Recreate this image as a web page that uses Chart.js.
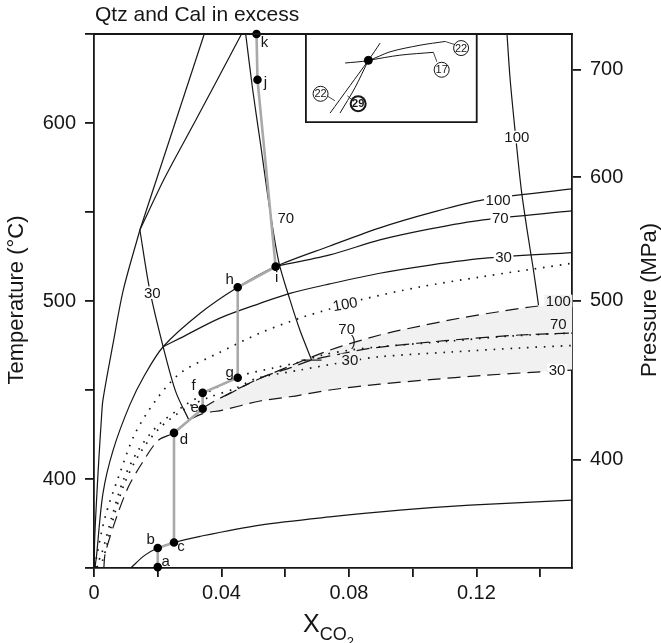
<!DOCTYPE html>
<html>
<head>
<meta charset="utf-8">
<script src="https://cdn.jsdelivr.net/npm/chart.js@4.4.1/dist/chart.umd.min.js"></script>
<style>
  html,body{margin:0;padding:0;background:#fff}
  #wrap{width:661px;height:643px}
</style>
</head>
<body>
<div id="wrap"><canvas id="c" width="661" height="643"></canvas></div>
<script>
/* XCO2 – T diagram, Qtz + Cal in excess. points are [xCO2, T °C] */
const xTicks = [0, 0.02, 0.04, 0.06, 0.08, 0.10, 0.12, 0.14];
const xTickLabels = ['0', '', '0.04', '', '0.08', '', '0.12', ''];
const tTicks = [350, 400, 450, 500, 550, 600, 650];
const tTickLabels = ['', '400', '', '500', '', '600', ''];
const pTickLabels = ['400', '500', '600', '700'];   // MPa
const pTickAtT = [411, 500.2, 569.6, 629.9];        // where they sit on the T scale

// gray P-T-X path with the lettered points
const pathLabels = ['a', 'b', 'c', 'd', 'e', 'f', 'g', 'h', 'i', 'j', 'k'];
const pathX = [0.0200, 0.0200, 0.0251, 0.0251, 0.0341, 0.0341, 0.0451, 0.0451, 0.0570, 0.0513, 0.0510];
const pathT = [350.5, 361.2, 364.3, 425.9, 439.5, 448.4, 456.9, 507.7, 519.3, 624.3, 650];

// solid reaction curves
const solidLowLeft = [[0.0001,350],[0.0002,365.6],[0.0008,388.1],[0.0015,410.6],[0.0023,433.1],[0.0028,444.3],[0.0059,475.3],[0.0092,506.2],[0.0144,539.9]];
const solidUpStraight = [[0.0144,539.9],[0.0346,650]];
const solidUpCurved = [[0.0144,539.9],[0.0222,569.2],[0.0320,601.8],[0.0463,650]];
const steep30 = [[0.0144,539.9],[0.0175,506.1],[0.0217,474.3],[0.0257,448.8],[0.0298,433.1]];
const solid100 = [[0.0003,350.4],[0.00075,356.2],[0.0028,391.8],[0.0060,416.2],[0.0112,441.5],[0.0159,458.4],[0.0217,474.3],[0.0333,493.1],[0.0451,507.7],[0.0571,519.5],[0.0740,530.9],[0.0897,541.1],[0.1055,549.5],[0.1221,556.8],[0.150,563.0]];
const solid70 = [[0.0571,519.5],[0.0740,525.9],[0.0897,534.3],[0.1055,540.5],[0.1221,545.6],[0.150,550.6]];
const solid30 = [[0.0217,474.3],[0.0269,479.0],[0.0395,490.4],[0.0521,498.7],[0.0615,504.3],[0.0740,509.6],[0.0897,515.6],[0.1055,520.2],[0.1237,524.2],[0.150,527.2]];
const steep70 = [[0.0476,650],[0.0498,618.7],[0.0523,587.7],[0.0552,551.2],[0.0580,521.9],[0.0615,500.6],[0.0646,483.7],[0.0683,466.8]];
const steep70End = [[0.0651,466.8],[0.0714,466.8]];
const steep100 = [[0.1296,650],[0.1306,624.3],[0.1322,594.5],[0.1341,562.4],[0.1360,538.8],[0.1379,517.4],[0.1395,497.7]];
const solidLow = [[0.01175,350.4],[0.0159,357.1],[0.0200,361.2],[0.0251,364.3],[0.0333,367.8],[0.0521,374.1],[0.0740,378.7],[0.0960,382.5],[0.1180,385.3],[0.150,388.1]];

// dotted curves
const dot100 = [[0.0004,350.4],[0.0008,356.2],[0.0035,378.7],[0.0077,401.2],[0.0129,425.6],[0.0202,446.2],[0.0276,460.2],[0.0391,470.8],[0.0521,482.0],[0.0646,490.4],[0.0740,495.5],[0.0835,500.6],[0.1023,507.9],[0.1212,513.5],[0.150,521.2]];
const dot70 = [[0.0005,350.4],[0.0024,358.1],[0.0056,378.7],[0.0092,399.3],[0.0139,416.2],[0.0202,430.3],[0.0286,441.5],[0.0357,448.8],[0.0458,457.8],[0.0561,462.3],[0.0646,465.7],[0.0718,469.7],[0.0803,472.4],[0.0897,474.3],[0.1118,477.5],[0.1306,480.3],[0.150,482.0]];
const dot30 = [[0.0009,350.4],[0.0027,354.3],[0.0059,376.8],[0.0096,397.6],[0.0144,414.5],[0.0206,428.6],[0.0288,439.8],[0.0363,446.0],[0.0442,450.8],[0.0510,456.5],[0.0646,461.2],[0.0803,466.2],[0.0897,468.7],[0.1118,471.3],[0.1337,473.6],[0.150,475.0]];

// dashed curves
const dash100 = [[0.0342,439.9],[0.0379,443.8],[0.0489,453.9],[0.0615,463.5],[0.0740,472.4],[0.0897,480.9],[0.1023,485.9],[0.1149,490.4],[0.1275,494.1],[0.1395,497.2],[0.150,498.0]];
const dash70 = [[0.0411,446.6],[0.0521,456.7],[0.0615,462.4],[0.0683,466.8],[0.0772,470.2],[0.0866,473.4],[0.1023,476.4],[0.1180,478.9],[0.1337,480.9],[0.150,482.0]];
const dash30 = [[0.0031,350.4],[0.0035,358.1],[0.0071,378.7],[0.0108,395.6],[0.0150,408.7],[0.0202,421.8],[0.0251,425.9],[0.0297,432.8],[0.0339,436.6],[0.0404,438.7],[0.0521,443.8],[0.0615,446.2],[0.0740,450.0],[0.0897,453.3],[0.1055,455.8],[0.1212,458.1],[0.1400,460.2],[0.150,461.2]];

// inset sketch (upper right box)
const insetBox = [[0.0665,650],[0.0665,600.5],[0.1201,600.5],[0.1201,650]];
const insetDot = [[0.0861,635.2]];
const inset22a = [[0.0741,605.6],[0.0803,620.9],[0.0861,635.2],[0.0898,644.9]];
const inset29 = [[0.0772,605.6],[0.0819,619.8],[0.0861,635.2]];
const inset22b = [[0.0788,633.7],[0.0861,635.2],[0.0929,640.0],[0.1023,643.7],[0.1102,645.8]];
const inset17 = [[0.0861,635.2],[0.0960,638.1],[0.1065,639.7]];
const leaders = [
  [[0.1102,645.8],[0.1133,644.0]],
  [[0.1065,639.7],[0.1076,634.4]],
  [[0.0756,612.5],[0.0731,615.3]],
  [[0.0795,615.3],[0.0810,613.0]]
];
const circleText = ['22', '17', '22', '29'];
const circleX = [0.1152, 0.1091, 0.0711, 0.0829];
const circleT = [642.1, 629.9, 616.4, 610.8];

const shade = '#f1f1f1';
const ink = '#161616';
const F = '"Liberation Sans", Arial, Helvetica, sans-serif';
Chart.defaults.font.family = F;

// letter offsets (px) from each path point
const letterDx = [8, -7, 7, 10, -8, -9, -8, -8, 1, 8, 8];
const letterDy = [-6, -9, 3, 6, -2, -8, -6, -8, 10, 2, 8];

// curve labels: text, x, T, background, rotation
const notes = [
  ['30', 0.0183, 504.7, '#fff'],
  ['70', 0.0602, 546.5, '#fff'],
  ['100', 0.1327, 592.1, '#fff'],
  ['100', 0.1268, 556.8, '#fff'],
  ['70', 0.1275, 546.5, '#fff'],
  ['30', 0.1285, 524.9, '#fff'],
  ['100', 0.0788, 498.3, '#fff', -10],
  ['70', 0.0793, 484.6, '#fff'],
  [')', 0.0814, 477.5, null],
  ['30', 0.0803, 466.9, shade],
  ['100', 0.1457, 500.0, shade],
  ['70', 0.1457, 487.0, shade],
  ['30', 0.1453, 461.2, '#fff']
];

const P = a => a.map(p => ({x: p[0], y: p[1]}));
function solid(a, w){ return {data: P(a), borderColor: ink, borderWidth: w || 1.2, pointRadius: 0, tension: 0.3, fill: false}; }
function dashed(a){ return Object.assign(solid(a), {borderDash: [13, 7]}); }
function dotted(a){ return Object.assign(solid(a, 1.7), {borderDash: [1.6, 6.8]}); }

const shadeEdge = dash100.concat(dash30.filter(p => p[0] >= 0.0339).reverse());

const datasets = [
  { data: pathX.map((v, i) => ({x: v, y: pathT[i]})), borderColor: '#a9a9a9', borderWidth: 2.6,
    pointRadius: 3, pointBackgroundColor: '#000', pointBorderColor: '#000', tension: 0, clip: false },
  { data: P(insetDot), showLine: false, pointRadius: 4, pointBackgroundColor: '#000', pointBorderColor: '#000' },
  Object.assign(solid(insetBox, 1.8), {tension: 0}),
  solid(inset22a, 1), solid(inset29, 1), solid(inset22b, 1), solid(inset17, 1)
].concat(leaders.map(l => Object.assign(solid(l, 0.8), {tension: 0}))).concat([
  solid(solidLowLeft), Object.assign(solid(solidUpStraight), {tension: 0}), solid(solidUpCurved), solid(steep30),
  solid(solid100), solid(solid70), solid(solid30), solid(steep70), Object.assign(solid(steep70End), {tension: 0}),
  solid(steep100), solid(solidLow),
  dotted(dot100), dotted(dot70), dotted(dot30),
  dashed(dash100), dashed(dash70), dashed(dash30),
  { data: P(shadeEdge), borderColor: 'rgba(0,0,0,0)', borderWidth: 0, backgroundColor: shade, fill: 'shape', pointRadius: 0, tension: 0 }
]);

const deco = {
  id: 'deco',
  afterDatasetsDraw(chart) {
    const {ctx, chartArea: a, scales: {x, y}} = chart;
    const px = v => x.getPixelForValue(v), py = v => y.getPixelForValue(v);
    ctx.save();
    // top frame line
    ctx.strokeStyle = ink; ctx.lineWidth = 1.8;
    ctx.beginPath(); ctx.moveTo(a.left - 1, a.top); ctx.lineTo(a.right + 0.9, a.top); ctx.stroke();

    function tag(txt, X, Y, size, bg, rot){
      ctx.save(); ctx.translate(X, Y); if (rot) ctx.rotate(rot * Math.PI / 180);
      ctx.font = size + 'px ' + F;
      if (bg) { const w = ctx.measureText(txt).width; ctx.fillStyle = bg; ctx.fillRect(-w / 2 - 1.5, -size * 0.42, w + 3, size * 0.84); }
      ctx.fillStyle = ink; ctx.textAlign = 'center'; ctx.textBaseline = 'middle';
      ctx.fillText(txt, 0, 1);
      ctx.restore();
    }
    notes.forEach(n => tag(n[0], px(n[1]), py(n[2]), n[0] === ')' ? 14 : 15, n[3], n[4]));
    pathLabels.forEach((l, i) => tag(l, px(pathX[i]) + letterDx[i], py(pathT[i]) + letterDy[i], 15, null));

    // numbered circles in the inset
    circleText.forEach((t, i) => {
      const X = px(circleX[i]), Y = py(circleT[i]);
      ctx.beginPath(); ctx.arc(X, Y, 7.5, 0, Math.PI * 2);
      ctx.fillStyle = '#fff'; ctx.fill();
      ctx.lineWidth = t === '29' ? 2 : 1; ctx.strokeStyle = ink; ctx.stroke();
      ctx.font = (t === '29' ? 'bold ' : '') + '11px ' + F;
      ctx.fillStyle = ink; ctx.textAlign = 'center'; ctx.textBaseline = 'middle';
      ctx.fillText(t, X, Y + 0.5);
    });

    // titles
    ctx.fillStyle = ink; ctx.textBaseline = 'alphabetic'; ctx.textAlign = 'left';
    ctx.font = '21px ' + F; ctx.fillText('Qtz and Cal in excess', 95, 21);
    ctx.font = '25px ' + F; ctx.fillText('X', 303, 632);
    const xw = ctx.measureText('X').width;
    ctx.font = '18px ' + F; ctx.fillText('CO', 303 + xw, 640);
    const cw = ctx.measureText('CO').width;
    ctx.font = '13px ' + F; ctx.fillText('2', 303 + xw + cw, 646);

    ctx.font = '22px ' + F; ctx.textAlign = 'center';
    ctx.save(); ctx.translate(23, 300); ctx.rotate(-Math.PI / 2); ctx.fillText('Temperature (°C)', 0, 0); ctx.restore();
    ctx.save(); ctx.translate(656, 300); ctx.rotate(-Math.PI / 2); ctx.fillText('Pressure (MPa)', 0, 0); ctx.restore();
    ctx.restore();
  }
};

const axisGrid = {display: true, drawOnChartArea: false, drawTicks: true, tickLength: 9, color: ink, lineWidth: 1.8};
const axisBorder = {display: true, color: ink, width: 1.8};
const tickFont = {size: 20};

new Chart(document.getElementById('c'), {
  type: 'line',
  data: {datasets: datasets},
  options: {
    responsive: false, animation: false, events: [],
    layout: {padding: {top: 34, left: 0, right: 0, bottom: 0}},
    plugins: {legend: {display: false}, tooltip: {enabled: false}},
    scales: {
      x: {
        type: 'linear', min: 0, max: 0.15,
        grid: axisGrid, border: axisBorder,
        afterBuildTicks: s => { s.ticks = xTicks.map(v => ({value: v})); },
        afterFit: s => { s.height = 75; },
        ticks: {autoSkip: false, maxRotation: 0, padding: 4, color: ink, font: tickFont,
          callback: (v, i) => xTickLabels[i]}
      },
      y: {
        type: 'linear', position: 'left', min: 350, max: 650,
        grid: axisGrid, border: axisBorder,
        afterBuildTicks: s => { s.ticks = tTicks.map(v => ({value: v})); },
        afterFit: s => { s.width = 94; },
        ticks: {autoSkip: false, padding: 9, color: ink, font: tickFont,
          callback: (v, i) => tTickLabels[i]}
      },
      y2: {
        type: 'linear', position: 'right', min: 350, max: 650,
        grid: axisGrid, border: axisBorder,
        afterBuildTicks: s => { s.ticks = pTickAtT.map(v => ({value: v})); },
        afterFit: s => { s.width = 89; },
        ticks: {autoSkip: false, padding: 9, color: ink, font: tickFont,
          callback: (v, i) => pTickLabels[i]}
      }
    }
  },
  plugins: [deco]
});
</script>
</body>
</html>
